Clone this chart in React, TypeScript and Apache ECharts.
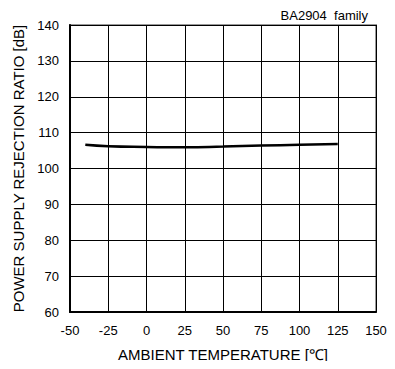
import React, { useEffect, useRef } from "react";
import * as echarts from "echarts";

const temps = [-40, -25, 0, 25, 50, 75, 100, 125];
const psrr = [106.6, 106.2, 106.0, 105.9, 106.1, 106.4, 106.6, 106.8];
const xTicks = { min: -50, max: 150, interval: 25 };
const yTicks = { min: 60, max: 140, interval: 10 };
const title = "BA2904  family";
const xName = "AMBIENT TEMPERATURE [\u2103]";
const yName = "POWER SUPPLY REJECTION RATIO [dB]";

export default function App() {
  const ref = useRef<HTMLDivElement>(null);
  useEffect(() => {
    const chart = echarts.init(ref.current!, null, { renderer: "svg" });
    const font = "Arial, 'Liberation Sans', sans-serif";
    chart.setOption({
      animation: false,
      title: {
        text: title,
        right: 22,
        top: 4,
        textStyle: { fontSize: 13, fontWeight: "normal", color: "#000", fontFamily: font },
      },
      grid: {
        left: 70,
        top: 25,
        width: 306,
        height: 287,
        show: true,
        borderColor: "#999",
        borderWidth: 2,
        backgroundColor: "#fff",
      },
      xAxis: {
        type: "value",
        min: xTicks.min,
        max: xTicks.max,
        interval: xTicks.interval,
        name: xName,
        nameLocation: "middle",
        nameGap: 35,
        nameTextStyle: { fontSize: 15, color: "#000", fontFamily: font },
        axisLine: { show: true, onZero: false, lineStyle: { color: "#000", width: 2 } },
        axisTick: { show: false },
        axisLabel: { fontSize: 13, color: "#000", fontFamily: font, margin: 12 },
        splitLine: { show: true, lineStyle: { color: "#000", width: 1 } },
      },
      yAxis: {
        type: "value",
        min: yTicks.min,
        max: yTicks.max,
        interval: yTicks.interval,
        name: yName,
        nameLocation: "middle",
        nameGap: 43,
        nameTextStyle: { fontSize: 15, color: "#000", fontFamily: font },
        axisLine: { show: true, onZero: false, lineStyle: { color: "#000", width: 2 } },
        axisTick: { show: false },
        axisLabel: { fontSize: 13, color: "#000", fontFamily: font, margin: 11 },
        splitLine: { show: true, lineStyle: { color: "#000", width: 1 } },
      },
      series: [
        {
          type: "line",
          data: temps.map((t, i) => [t, psrr[i]]),
          smooth: true,
          showSymbol: false,
          lineStyle: { color: "#000", width: 2.5 },
        },
      ],
    });
    return () => chart.dispose();
  }, []);
  return <div ref={ref} style={{ width: 395, height: 369, margin: -8 }} />;
}
